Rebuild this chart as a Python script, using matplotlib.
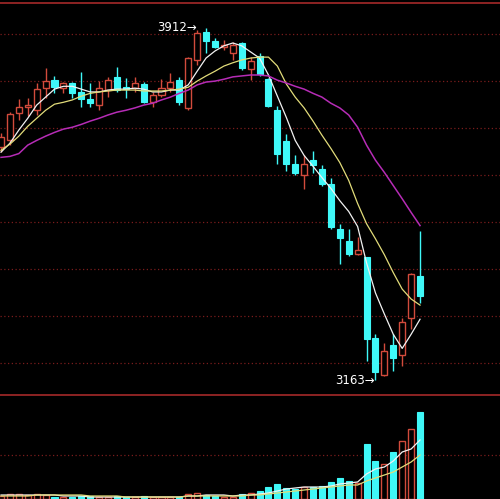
import matplotlib
matplotlib.use('Agg')
import matplotlib.pyplot as plt

# Tageskerzen (Open, Close, High, Low)
opens = [3658, 3673, 3731, 3744, 3737, 3784, 3801, 3784, 3795, 3776, 3761, 3748,
         3780, 3808, 3786, 3784, 3793, 3754, 3769, 3784, 3801, 3742, 3844, 3904,
         3884, 3872, 3859, 3880, 3825, 3852, 3803, 3737, 3671, 3622, 3599, 3631,
         3613, 3581, 3485, 3460, 3432, 3426, 3253, 3174, 3238, 3217, 3296, 3385]
closes = [3680, 3729, 3744, 3748, 3782, 3799, 3786, 3795, 3774, 3761, 3752, 3784,
          3801, 3780, 3782, 3795, 3754, 3769, 3784, 3797, 3754, 3848, 3902, 3884,
          3872, 3876, 3876, 3827, 3842, 3814, 3746, 3645, 3622, 3603, 3622, 3620,
          3581, 3490, 3466, 3432, 3441, 3251, 3180, 3225, 3210, 3287, 3389, 3342]
highs = [3688, 3733, 3761, 3763, 3795, 3827, 3810, 3797, 3797, 3818, 3795, 3799,
         3808, 3829, 3806, 3808, 3797, 3776, 3803, 3816, 3808, 3850, 3908, 3912,
         3891, 3887, 3882, 3882, 3850, 3859, 3806, 3746, 3686, 3641, 3643, 3650,
         3620, 3594, 3496, 3485, 3468, 3426, 3261, 3242, 3261, 3296, 3392, 3481]
lows = [3648, 3663, 3716, 3724, 3727, 3763, 3774, 3774, 3763, 3744, 3744, 3737,
        3765, 3776, 3763, 3776, 3752, 3744, 3765, 3776, 3748, 3737, 3833, 3859,
        3870, 3865, 3844, 3823, 3801, 3810, 3744, 3622, 3609, 3599, 3569, 3603,
        3577, 3485, 3411, 3428, 3430, 3204, 3163, 3172, 3182, 3193, 3272, 3328]

# gleitende Durchschnitte
ma5 = [3648, 3667, 3695, 3720, 3748, 3765, 3782, 3788, 3788, 3782, 3776, 3776,
       3780, 3782, 3782, 3784, 3782, 3776, 3776, 3780, 3780, 3791, 3820, 3848,
       3863, 3874, 3880, 3874, 3861, 3848, 3812, 3767, 3722, 3673, 3641, 3618,
       3594, 3571, 3545, 3522, 3490, 3413, 3349, 3304, 3261, 3231, 3261, 3293]
ma10 = [3652, 3665, 3682, 3703, 3720, 3737, 3750, 3754, 3759, 3767, 3773, 3776,
        3778, 3780, 3780, 3780, 3778, 3778, 3778, 3780, 3782, 3786, 3799, 3810,
        3820, 3831, 3838, 3844, 3848, 3850, 3850, 3831, 3793, 3765, 3742, 3714,
        3684, 3656, 3626, 3588, 3539, 3496, 3464, 3430, 3392, 3357, 3336, 3323]
ma20 = [3637, 3639, 3645, 3663, 3673, 3682, 3690, 3697, 3701, 3707, 3714, 3720,
        3727, 3733, 3737, 3742, 3748, 3752, 3759, 3765, 3773, 3780, 3791, 3797,
        3799, 3803, 3808, 3810, 3812, 3812, 3810, 3801, 3795, 3788, 3782, 3773,
        3765, 3752, 3742, 3727, 3701, 3663, 3631, 3605, 3577, 3549, 3520, 3492]

# Volumen
vol = [3, 5, 5, 4, 5, 4, 2, 2, 2, 3, 3, 2, 2, 3, 2, 2, 3, 2, 2, 2, 2, 5, 6, 4,
       3, 2, 2, 5, 6, 8, 12, 15, 11, 10, 12, 12, 13, 17, 21, 18, 16, 55, 38, 35,
       47, 58, 70, 87]
vol_ma5 = [4, 4, 4, 4, 4, 4, 4, 3, 3, 3, 2, 2, 2, 2, 2, 2, 2, 2, 2, 2, 2, 3, 3, 4,
           4, 4, 3, 4, 4, 5, 6, 8, 10, 11, 12, 12, 12, 13, 15, 16, 17, 25, 30, 32,
           38, 47, 50, 59]
vol_ma10 = [3, 3, 3, 3, 4, 4, 4, 4, 4, 4, 3, 3, 3, 3, 2, 2, 2, 2, 2, 2, 2, 3, 3, 3,
            3, 3, 3, 3, 4, 4, 5, 6, 7, 8, 9, 10, 11, 12, 13, 14, 14, 18, 21, 24,
            27, 32, 37, 44]

rot = '#d24b3c'
cyan = '#3ff8f8'
gitter = '#7a1c1c'

n = len(opens)
x = list(range(n))
steigt = [c >= o for o, c in zip(opens, closes)]

fig = plt.figure(figsize=(5, 4.99), dpi=100, facecolor='black')
ax = fig.add_axes([0, 104/499, 1, 392/499], facecolor='black')
ax2 = fig.add_axes([0, 0, 1, 104/499], facecolor='black')

# Kerzen
for i in x:
    farbe = rot if steigt[i] else cyan
    unten = min(opens[i], closes[i])
    oben = max(opens[i], closes[i])
    ax.vlines(i, lows[i], unten, color=farbe, lw=1, zorder=2)
    ax.vlines(i, oben, highs[i], color=farbe, lw=1, zorder=2)
    h = max(oben - unten, 1.5)
    if steigt[i]:
        ax.bar(i, h, bottom=unten, width=0.68, facecolor='black', edgecolor=rot, lw=1, zorder=3)
    else:
        ax.bar(i, h, bottom=unten, width=0.68, facecolor=cyan, edgecolor=cyan, lw=0.8, zorder=3)

ax.plot(x, ma5, color='#f2f2f2', lw=0.9, zorder=4)
ax.plot(x, ma10, color='#e2dc7a', lw=0.9, zorder=4)
ax.plot(x, ma20, color='#b62cb6', lw=1.1, zorder=4)

for lvl in [3900, 3800, 3700, 3600, 3500, 3400, 3300, 3200]:
    ax.axhline(lvl, color=gitter, lw=0.9, ls=(0, (1, 2)), zorder=1)

ax.text(21.95, 3912, '3912\u2192', color='white', fontsize=8.5, ha='right', va='center')
ax.text(41.9, 3163, '3163\u2192', color='white', fontsize=8.5, ha='right', va='center')

ax.set_xlim(-0.112, 55.97)
ax.set_ylim(3132, 3965)
ax.set_xticks([])
ax.set_yticks([])
for s in ['left', 'right', 'bottom']:
    ax.spines[s].set_visible(False)
ax.spines['top'].set_color('#a52a2a')
ax.spines['top'].set_linewidth(1.2)

# Volumenbalken
for i in x:
    if steigt[i]:
        ax2.bar(i, vol[i], width=0.68, facecolor='black', edgecolor=rot, lw=1, zorder=3)
    else:
        ax2.bar(i, vol[i], width=0.68, facecolor=cyan, edgecolor=cyan, lw=0.8, zorder=3)
ax2.plot(x, vol_ma5, color='#f2f2f2', lw=0.9, zorder=4)
ax2.plot(x, vol_ma10, color='#e2dc7a', lw=0.9, zorder=4)
ax2.axhline(44, color=gitter, lw=0.9, ls=(0, (1, 2)), zorder=1)

ax2.set_xlim(-0.112, 55.97)
ax2.set_ylim(0, 104)
ax2.set_xticks([])
ax2.set_yticks([])
for s in ['left', 'right', 'bottom']:
    ax2.spines[s].set_visible(False)
ax2.spines['top'].set_color('#a52a2a')
ax2.spines['top'].set_linewidth(1.2)

plt.savefig('out.png', dpi=100, facecolor='black')
